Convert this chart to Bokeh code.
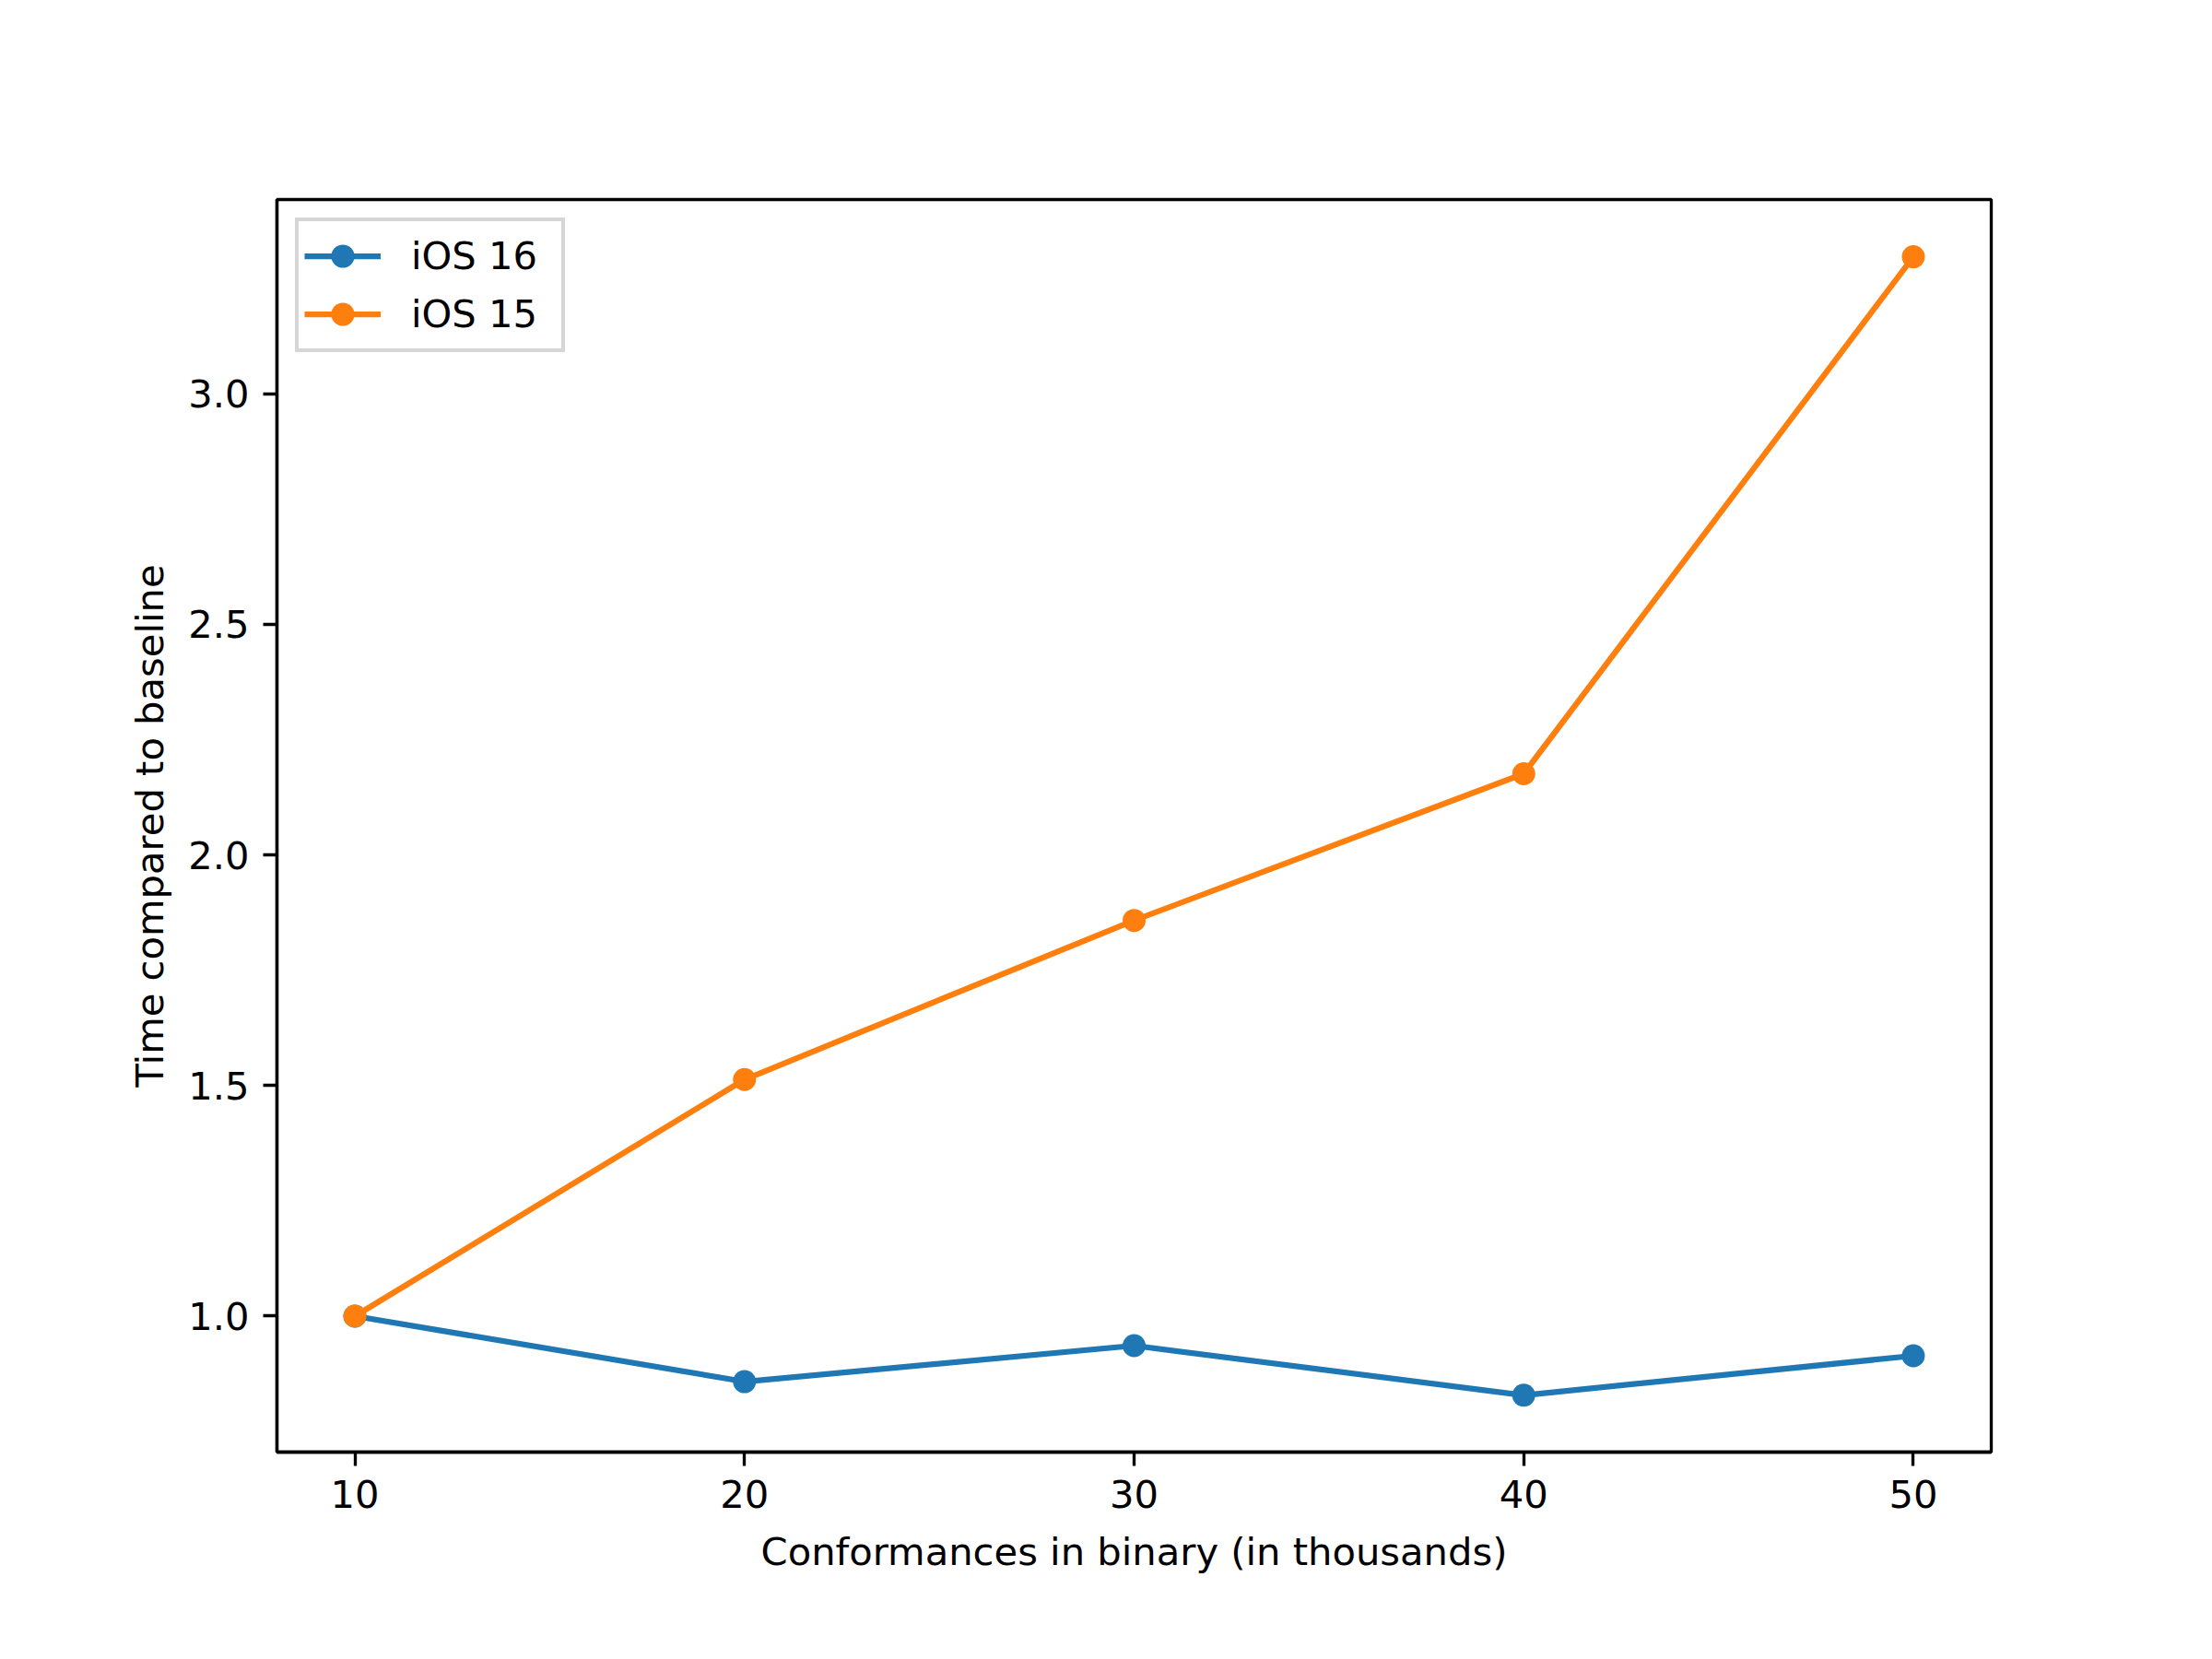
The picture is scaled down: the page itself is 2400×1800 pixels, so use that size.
from bokeh.plotting import figure
from bokeh.models import Range1d, FixedTicker, NumeralTickFormatter, Legend, LegendItem
from bokeh.embed import file_html
from bokeh.resources import INLINE

conformances = [10, 20, 30, 40, 50]
ios16 = [1.0, 0.858, 0.936, 0.8285, 0.914]
ios15 = [1.0, 1.513, 1.858, 2.176, 3.297]
x_ticks = [10, 20, 30, 40, 50]
y_ticks = [1.0, 1.5, 2.0, 2.5, 3.0]

FONT = "DejaVu Sans"
FS = "41.67px"
BLUE = "#1f77b4"
ORANGE = "#ff7f0e"

p = figure(width=2384, height=1784, output_backend="svg", toolbar_location=None,
           x_range=Range1d(8, 52), y_range=Range1d(0.7052, 3.421),
           min_border_left=300, min_border_right=224, min_border_top=216, min_border_bottom=209)
p.xgrid.visible = False
p.ygrid.visible = False
p.outline_line_color = "black"
p.outline_line_width = 3.33
p.background_fill_color = "white"
p.border_fill_color = "white"

l16 = p.line(conformances, ios16, line_color=BLUE, line_width=6.25)
s16 = p.scatter(conformances, ios16, size=25, fill_color=BLUE, line_color=BLUE, line_width=0)
l15 = p.line(conformances, ios15, line_color=ORANGE, line_width=6.25)
s15 = p.scatter(conformances, ios15, size=25, fill_color=ORANGE, line_color=ORANGE, line_width=0)

for ax in (p.xaxis[0], p.yaxis[0]):
    ax.axis_line_width = 3.33
    ax.major_tick_line_width = 3.33
    ax.major_tick_out = 15
    ax.major_tick_in = 0
    ax.minor_tick_out = 0
    ax.minor_tick_in = 0
    ax.major_label_standoff = 15
    ax.major_label_text_font = FONT
    ax.major_label_text_font_size = FS
    ax.major_label_text_color = "black"
    ax.axis_label_text_font = FONT
    ax.axis_label_text_font_size = FS
    ax.axis_label_text_font_style = "normal"
    ax.axis_label_text_color = "black"

p.xaxis[0].ticker = FixedTicker(ticks=x_ticks)
p.yaxis[0].ticker = FixedTicker(ticks=y_ticks)
p.yaxis[0].formatter = NumeralTickFormatter(format="0.0")
p.xaxis[0].axis_label = "Conformances in binary (in thousands)"
p.yaxis[0].axis_label = "Time compared to baseline"
p.xaxis[0].axis_label_standoff = 20
p.yaxis[0].axis_label_standoff = 14

legend = Legend(items=[LegendItem(label="iOS 16", renderers=[l16, s16]),
                       LegendItem(label="iOS 15", renderers=[l15, s15])],
                location="top_left", margin=20, padding=6, spacing=0,
                glyph_width=83, glyph_height=63, label_height=63, label_width=157,
                label_standoff=33,
                label_text_font=FONT, label_text_font_size=FS, label_text_color="black",
                border_line_color="#cccccc", border_line_width=4, border_line_alpha=0.8,
                background_fill_color="white", background_fill_alpha=0.8)
p.add_layout(legend)

open("out.html", "w").write(file_html(p, INLINE))
